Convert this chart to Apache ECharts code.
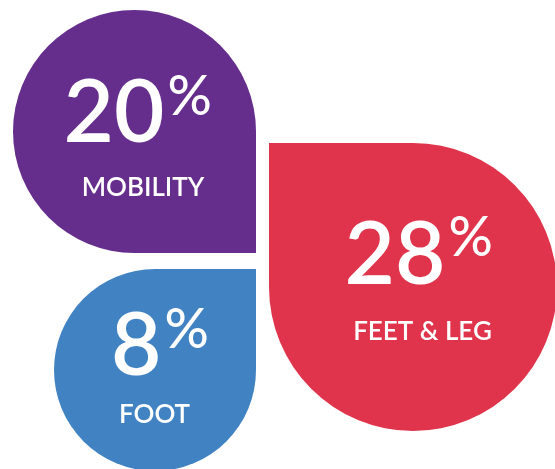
<!DOCTYPE html>
<html>
<head>
<meta charset="utf-8">
<style>html,body{margin:0;padding:0;background:#fff;}#c{width:555px;height:469px;}</style>
<script src="https://cdn.jsdelivr.net/npm/echarts@6/dist/echarts.min.js"></script>
</head>
<body>
<div id="c"></div>
<script>
// ---- data ----
var categories = ['MOBILITY', 'FEET & LEG', 'FOOT'];
var values = [20, 28, 8];
var colors = ['#652e8c', '#e0344c', '#4183c2'];

// ---- layout (pixels): shape center, radius, square corner, text offsets from center ----
var layout = [
  { cx: 134.5, cy: 131.5, R: 121.5, corner: 'br', numRight: 30, numY: -17.5, pctY: -34.5, labX: 8.5, labY: 56.5 },
  { cx: 413,   cy: 287,   R: 144,   corner: 'tl', numRight: 32.5, numY: -31, pctY: -49,   labX: 9.5, labY: 45 },
  { cx: 155,   cy: 370,   R: 101,   corner: 'tr', numRight: 6.5, numY: -23.5, pctY: -39.5, labX: -0.5, labY: 45 }
];

var FONT = 'Lato, "Open Sans", sans-serif';

function radii(corner, R) {
  // [tl, tr, br, bl]
  return {
    tl: [0, R, R, R],
    tr: [R, 0, R, R],
    br: [R, R, 0, R],
    bl: [R, R, R, 0]
  }[corner];
}

var chart = echarts.init(document.getElementById('c'), null, { renderer: 'canvas' });
chart.setOption({
  animation: false,
  series: [{
    type: 'custom',
    coordinateSystem: 'none',
    data: values.map(function (v, i) { return [v, i]; }),
    renderItem: function (params, api) {
      var i = params.dataIndex;
      var L = layout[i];
      var v = api.value(0);
      var x0 = L.cx - L.R, y0 = L.cy - L.R, s = 2 * L.R;
      var numX = L.cx + L.numRight;
      return {
        type: 'group',
        children: [
          {
            type: 'rect',
            shape: { x: x0, y: y0, width: s, height: s, r: radii(L.corner, L.R) },
            style: { fill: colors[i] }
          },
          {
            type: 'text',
            style: {
              text: String(v), x: numX, y: L.cy + L.numY,
              align: 'right', verticalAlign: 'middle',
              fill: '#fff', font: '600 87px ' + FONT
            }
          },
          {
            type: 'text',
            style: {
              text: '%', x: numX + 3, y: L.cy + L.pctY,
              align: 'left', verticalAlign: 'middle',
              fill: '#fff', font: '500 55px ' + FONT
            }
          },
          {
            type: 'text',
            style: {
              text: categories[i], x: L.cx + L.labX, y: L.cy + L.labY,
              align: 'center', verticalAlign: 'middle',
              fill: '#fff', font: '600 26px ' + FONT
            }
          }
        ]
      };
    }
  }]
});
</script>
</body>
</html>
